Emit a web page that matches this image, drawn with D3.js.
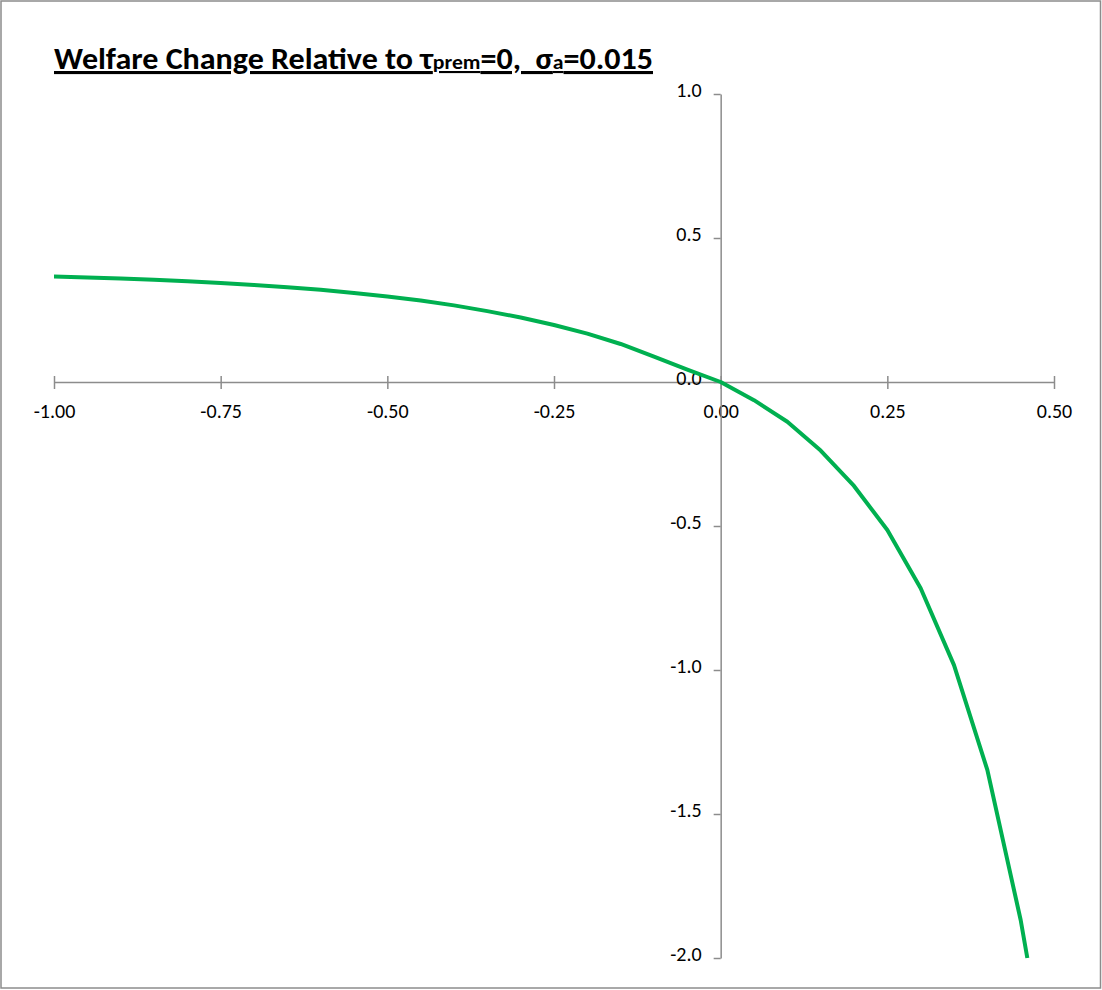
<!DOCTYPE html>
<html><head><meta charset="utf-8">
<script src="https://cdn.jsdelivr.net/npm/d3@7"></script>
<style>body{margin:0;background:#fff}svg{display:block}</style>
</head><body>
<script>
const xValues = [-1.00,-0.95,-0.90,-0.85,-0.80,-0.75,-0.70,-0.65,-0.60,-0.55,-0.50,-0.45,-0.40,-0.35,-0.30,-0.25,-0.20,-0.15,-0.10,-0.05,0.00,0.05,0.10,0.15,0.20,0.25,0.30,0.35,0.40,0.45,0.46];
const welfare = [0.366,0.363,0.359,0.355,0.350,0.344,0.337,0.329,0.320,0.309,0.297,0.283,0.266,0.246,0.224,0.198,0.168,0.132,0.088,0.043,0.000,-0.063,-0.138,-0.238,-0.361,-0.514,-0.716,-0.983,-1.347,-1.868,-2.000];
const xTicks = [-1.00,-0.75,-0.50,-0.25,0.00,0.25,0.50];
const yTicks = [1.0,0.5,0.0,-0.5,-1.0,-1.5,-2.0];

const W = 1102, H = 990;
const svg = d3.select("body").append("svg").attr("width", W).attr("height", H);
svg.append("rect").attr("x",1).attr("y",1).attr("width",W-2.5).attr("height",H-3)
  .attr("fill","#fff").attr("stroke","#8c8c8c").attr("stroke-width",1.5);

const x = d3.scaleLinear().domain([-1, 0.5]).range([54, 1054]);
const y = d3.scaleLinear().domain([-2, 1]).range([958, 94]);
const font = "Carlito, Lato, 'Open Sans', sans-serif";
const axisColor = "#8c8c8c";
const fmt2 = d => d3.format(".2f")(d).replace("−","-");
const fmt1 = d => d3.format(".1f")(d).replace("−","-");

// x axis at y=0
const gx = svg.append("g").attr("transform", `translate(0,${y(0)})`)
  .call(d3.axisBottom(x).tickValues(xTicks).tickSize(0).tickFormat(fmt2));
gx.select(".domain").attr("stroke", axisColor).attr("stroke-width", 1.5);
gx.selectAll(".tick line").remove();
gx.selectAll(".tick").append("line").attr("y1",-6).attr("y2",7)
  .attr("stroke", axisColor).attr("stroke-width",1.5);
gx.selectAll(".tick text").attr("y", 22).attr("font-family", font).attr("font-size", 20).attr("fill","#000");
// y axis at x=0
const gy = svg.append("g").attr("transform", `translate(${x(0)},0)`)
  .call(d3.axisLeft(y).tickValues(yTicks).tickSizeInner(7).tickSizeOuter(0).tickFormat(fmt1));
gy.select(".domain").attr("stroke", axisColor).attr("stroke-width", 1.5);
gy.selectAll(".tick line").attr("stroke", axisColor).attr("stroke-width", 1.5);
gy.selectAll(".tick text").attr("x", -19).attr("dy","0.1em").attr("font-family", font).attr("font-size", 20).attr("fill","#000");

// line
const line = d3.line().x((d,i)=>x(xValues[i])).y(d=>y(d));
svg.append("path").datum(welfare).attr("d", line).attr("fill","none")
  .attr("stroke","#00B050").attr("stroke-width",4).attr("stroke-linejoin","round");

// title
const t = svg.append("text").attr("x",54).attr("y",69).attr("font-family",font)
  .attr("font-weight","bold").attr("font-size",31).attr("text-decoration","underline").attr("fill","#000")
  .attr("textLength", 599).attr("lengthAdjust","spacingAndGlyphs");
t.append("tspan").text("Welfare Change Relative to τ");
t.append("tspan").attr("font-size",21).text("prem");
t.append("tspan").text("=0,\u00a0\u00a0σ");
t.append("tspan").attr("font-size",21).text("a");
t.append("tspan").text("=0.015");
</script>
</body></html>
